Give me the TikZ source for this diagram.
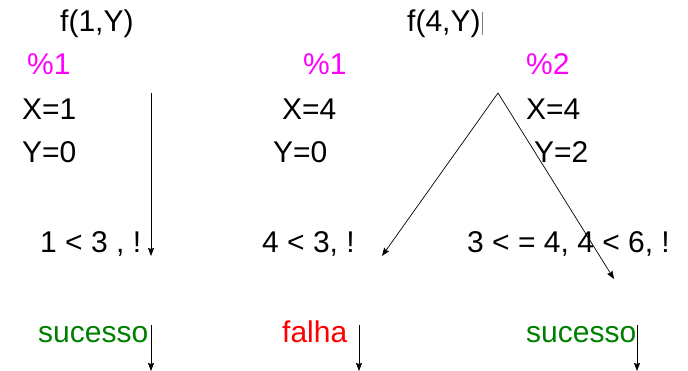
\documentclass[tikz,border=0pt]{standalone}
\usepackage{fontspec}
\setmainfont{Liberation Sans}
\definecolor{goalpink}{RGB}{255,0,255}
\definecolor{okgreen}{RGB}{0,128,0}
\definecolor{badred}{RGB}{255,0,0}
\tikzset{
  txt/.style={anchor=base west, inner sep=0pt, font=\fontsize{30}{36}\selectfont},
  clause/.style={txt, text=goalpink},
  flow/.style={line width=0.7pt, -{Stealth[length=8pt,width=6pt,inset=1pt]}}
}
\usetikzlibrary{arrows.meta}
\begin{document}
\begin{tikzpicture}[x=1pt,y=-1pt]
\useasboundingbox (0,0) rectangle (688,371);

\node[txt] (goal1) at (60,32) {f(1,Y)};
\node[txt] (goal4) at (407,32) {f(4,Y)};
\draw[gray, line width=0.6pt] (482,12) -- (482,35);

\node[clause] (c1a) at (27,75) {\%1};
\node[txt] (x1a) at (22,120) {X=1};
\node[txt] (y1a) at (22,163) {Y=0};

\node[clause] (c1b) at (303,75) {\%1};
\node[txt] (x1b) at (282,120) {X=4};
\node[txt] (y1b) at (273,163) {Y=0};

\node[clause] (c2b) at (526,75) {\%2};
\node[txt] (x2b) at (526,120) {X=4};
\node[txt] (y2b) at (534,163) {Y=2};

\node[txt] (body1) at (40,253) {1 < 3 , !};
\node[txt] (body2) at (262,253) {4 < 3, !};
\node[txt] (body3) at (467,253) {3 < = 4, 4 < 6, !};

\node[txt, text=okgreen] (ok1) at (38,342) {sucesso};
\node[txt, text=badred] (fail) at (282,342) {falha};
\node[txt, text=okgreen] (ok2) at (526,342) {sucesso};

\coordinate (top1) at (151,93);
\coordinate (end1) at (151,256);
\coordinate (apex) at (498,93);
\coordinate (endL) at (382,256);
\coordinate (endR) at (614,279);
\coordinate (s1) at (151,325);
\coordinate (e1) at (151,371);
\coordinate (s2) at (359,325);
\coordinate (e2) at (359,371);
\coordinate (s3) at (637,325);
\coordinate (e3) at (637,371);

\draw[flow] (top1) -- (end1);
\draw[flow] (apex) -- (endL);
\draw[flow] (apex) -- (endR);
\draw[flow] (s1) -- (e1);
\draw[flow] (s2) -- (e2);
\draw[flow] (s3) -- (e3);
\end{tikzpicture}
\end{document}
